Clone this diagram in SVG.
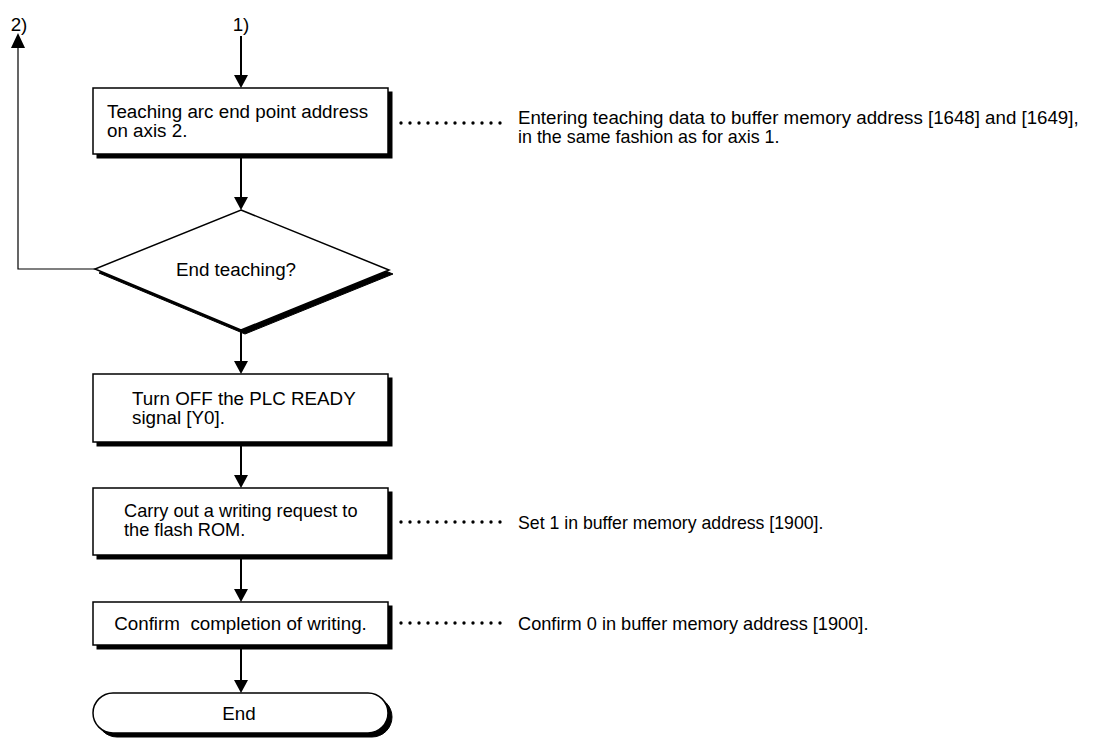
<svg xmlns="http://www.w3.org/2000/svg" width="1093" height="740" viewBox="0 0 1093 740">
<style>
text{font-family:"Liberation Sans",Arial,sans-serif;font-size:18.8px;fill:#000}
.box{fill:#fff;stroke:#000;stroke-width:1.5}
.shadow{fill:#000;stroke:#000;stroke-width:1}
.conn{fill:none;stroke:#000;stroke-width:2}
.thin{fill:none;stroke:#000;stroke-width:1.2}
.dots{fill:none;stroke:#000;stroke-width:3.4;stroke-dasharray:0 9;stroke-linecap:round}
.head{fill:#000}
.mid{text-anchor:middle}
</style>
<rect width="1093" height="740" fill="#fff"/>
<g id="connectors">
<line class="conn" x1="241" y1="36" x2="241" y2="76"/>
<polygon class="head" points="234,75 248,75 241,88"/>
<line class="conn" x1="241" y1="158" x2="241" y2="198"/>
<polygon class="head" points="234,197 248,197 241,210"/>
<line class="conn" x1="241" y1="330" x2="241" y2="362"/>
<polygon class="head" points="234,361 248,361 241,374"/>
<line class="conn" x1="241" y1="446" x2="241" y2="476"/>
<polygon class="head" points="234,475 248,475 241,488"/>
<line class="conn" x1="241" y1="559" x2="241" y2="590"/>
<polygon class="head" points="234,589 248,589 241,602"/>
<line class="conn" x1="241" y1="649" x2="241" y2="681"/>
<polygon class="head" points="234,680 248,680 241,693"/>
<polyline class="thin" points="95,269 18,269 18,47"/>
<polygon class="head" points="11,48 25,48 18,33"/>
<line class="dots" x1="401" y1="123" x2="503" y2="123"/>
<line class="dots" x1="401" y1="522" x2="503" y2="522"/>
<line class="dots" x1="401" y1="623" x2="503" y2="623"/>
</g>
<g id="label1"><text x="241" y="31" class="mid">1)</text></g>
<g id="label2"><text x="19" y="31" class="mid">2)</text></g>
<g id="box1">
<rect class="shadow" x="97" y="92" width="295" height="66"/>
<rect class="box" x="93" y="88" width="295" height="66"/>
<text x="107" y="118">Teaching arc end point address</text>
<text x="107" y="137">on axis 2.</text>
</g>
<g id="decision">
<polygon class="shadow" points="245,214 393,274 245,334 99,273"/>
<polygon class="box" points="241,210 389,270 241,330 95,269"/>
<text x="236" y="276" class="mid">End teaching?</text>
</g>
<g id="box2">
<rect class="shadow" x="97" y="378" width="295" height="68"/>
<rect class="box" x="93" y="374" width="295" height="68"/>
<text x="132" y="405">Turn OFF the PLC READY</text>
<text x="132" y="424">signal [Y0].</text>
</g>
<g id="box3">
<rect class="shadow" x="97" y="492" width="295" height="67"/>
<rect class="box" x="93" y="488" width="295" height="67"/>
<text x="124" y="517" style="font-size:18.2px">Carry out a writing request to</text>
<text x="124" y="536" style="font-size:18.2px">the flash ROM.</text>
</g>
<g id="box4">
<rect class="shadow" x="97" y="606" width="295" height="43"/>
<rect class="box" x="93" y="602" width="295" height="43"/>
<text x="240.5" y="630" class="mid" xml:space="preserve">Confirm  completion of writing.</text>
</g>
<g id="end">
<rect class="shadow" x="97" y="697" width="295" height="40" rx="20" ry="20"/>
<rect class="box" x="93" y="693" width="295" height="40" rx="20" ry="20"/>
<text x="239" y="720" class="mid">End</text>
</g>
<g id="note1">
<text x="518" y="124" style="font-size:18.7px">Entering teaching data to buffer memory address [1648] and [1649],</text>
<text x="518" y="143" style="font-size:17.9px">in the same fashion as for axis 1.</text>
</g>
<g id="note3"><text x="518" y="529" style="font-size:17.7px">Set 1 in buffer memory address [1900].</text></g>
<g id="note4"><text x="518" y="630" style="font-size:18.2px">Confirm 0 in buffer memory address [1900].</text></g>
</svg>
